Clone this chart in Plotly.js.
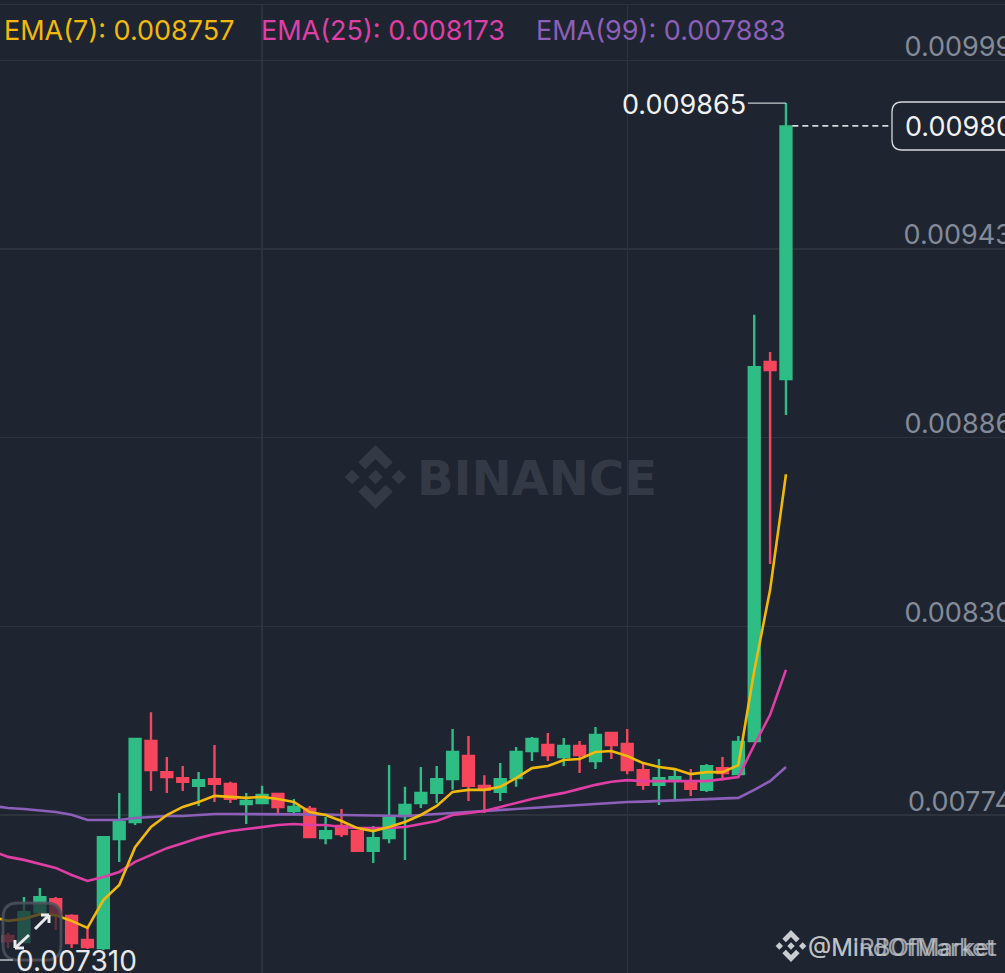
<!DOCTYPE html>
<html>
<head>
<meta charset="utf-8">
<script src="https://cdn.plot.ly/plotly-3.0.1.min.js"></script>
<style>html,body{margin:0;padding:0;width:1005px;height:973px;overflow:hidden;background:#1f2530}#chart{position:absolute;left:0;top:0}</style>
</head>
<body>
<div id="chart"></div>
<script>
// Prices in millionths of the quote unit.
const candleOpen  = [7379,7361,7450,7489,7439,7367,7343,7668,7719,7961,7868,7850,7827,7847,7833,7773,7776,7803,7752,7758,7671,7707,7692,7633,7671,7737,7776,7806,7847,7916,7827,7809,7850,7931,7949,7913,7946,7901,7985,7952,7874,7830,7847,7839,7815,7880,7862,7961,9092,9041];
const candleHigh  = [7388,7495,7522,7495,7444,7406,7677,7806,7970,8047,7913,7886,7868,7949,7839,7806,7827,7803,7788,7767,7734,7758,7692,7707,7889,7824,7883,7886,7997,7976,7859,7895,7943,7973,7985,7970,7961,8003,7988,7997,7895,7907,7880,7877,7892,7913,7976,9233,9122,9865];
const candleLow   = [7343,7361,7450,7397,7343,7340,7337,7600,7710,7812,7806,7812,7767,7779,7776,7713,7776,7746,7746,7674,7653,7674,7633,7597,7656,7606,7761,7776,7815,7782,7746,7782,7824,7901,7901,7886,7865,7877,7907,7862,7815,7770,7782,7797,7809,7844,7862,7961,8489,8934];
const candleClose = [7364,7450,7495,7441,7358,7346,7674,7719,7967,7874,7853,7839,7844,7833,7788,7782,7800,7764,7764,7674,7692,7683,7633,7671,7734,7770,7806,7847,7928,7827,7815,7847,7928,7967,7919,7946,7919,7979,7949,7874,7830,7850,7853,7818,7886,7865,7958,9077,9068,9795];
// EMA series start one candle before the first visible candle.
const ema7  = [7436,7424,7430,7444,7441,7424,7403,7486,7531,7644,7704,7740,7764,7779,7797,7794,7791,7794,7788,7779,7749,7740,7722,7701,7692,7704,7719,7740,7767,7809,7815,7815,7824,7850,7880,7886,7904,7907,7928,7931,7916,7895,7883,7877,7862,7868,7868,7889,8170,8412,8757];
const ema25 = [7633,7615,7606,7594,7582,7561,7543,7555,7570,7600,7621,7641,7656,7671,7683,7692,7698,7704,7710,7713,7710,7710,7704,7701,7701,7701,7704,7713,7722,7740,7746,7752,7764,7776,7788,7797,7806,7818,7830,7839,7844,7841,7841,7841,7841,7841,7847,7853,7949,8039,8173];
const ema99 = [7767,7761,7758,7753,7749,7741,7725,7725,7725,7731,7734,7737,7737,7740,7743,7743,7743,7743,7743,7743,7743,7741,7740,7739,7737,7737,7737,7740,7743,7746,7749,7752,7755,7758,7761,7765,7768,7770,7773,7776,7779,7780,7782,7783,7785,7786,7788,7791,7815,7841,7883];
const gridPrices = [7740,8303,8866,9430,9993];
const gridLabels = ['0.007740','0.008303','0.008866','0.009430','0.009993'];
const gridCandles = [16,39];
const legendLabels = ['EMA(7): 0.008757','EMA(25): 0.008173','EMA(99): 0.007883'];
const lastPrice = 9797, lastLabel = '0.009800';
const highPrice = 9865, highLabel = '0.009865';
const lowLabel = '0.007310';

const W = 1032, H = 973, TOP = 5;
const BG = '#1f2530', GRID = '#2d333d';
const price = v => v / 1e6;
const X0 = 8.1, STEP = 15.875, UNIT = 2.985;
const xRange = [(0 - X0) / STEP, (W - X0) / STEP];
const yRange = [price(7740 - (H - 815) * UNIT), price(7740 + (815 - TOP) * UNIT)];
const px = x => x / W, py = y => 1 - (y - TOP) / (H - TOP);

const candleX = candleOpen.map((_, i) => i);
const emaX = ema7.map((_, i) => i - 1);
const emaTrace = (vals, color) => ({type:'scatter',mode:'lines',x:emaX,y:vals.map(price),
  line:{color,width:2.6,shape:'linear'},hoverinfo:'skip',showlegend:false,cliponaxis:true});

const traces = [
  {type:'candlestick',x:candleX,open:candleOpen.map(price),high:candleHigh.map(price),low:candleLow.map(price),close:candleClose.map(price),
   increasing:{line:{color:'#2ebd85',width:2.4},fillcolor:'#2ebd85'},
   decreasing:{line:{color:'#f6465d',width:2.4},fillcolor:'#f6465d'},
   whiskerwidth:0,showlegend:false,hoverinfo:'skip'},
  emaTrace(ema99,'#8c5fb8'),
  emaTrace(ema25,'#df3fa5'),
  emaTrace(ema7,'#f0b90b')
];

function poly(pts){ return pts.map((p,i)=>(i?'L':'M')+px(p[0]).toFixed(5)+','+py(p[1]).toFixed(5)).join(' ')+' Z'; }
function logo(cx,cy,r,color){
  const t=(u,v)=>[cx+u*r,cy+v*r];
  const parts=[
    [[0,-1],[.54,-.46],[.32,-.24],[0,-.56],[-.32,-.24],[-.54,-.46]],
    [[0,1],[.54,.46],[.32,.24],[0,.56],[-.32,.24],[-.54,.46]],
    [[0,-.23],[.23,0],[0,.23],[-.23,0]],
    [[-.73,-.23],[-.5,0],[-.73,.23],[-.96,0]],
    [[.73,-.23],[.96,0],[.73,.23],[.5,0]]
  ];
  return parts.map(p=>({type:'path',xref:'paper',yref:'paper',layer:'below',path:poly(p.map(q=>t(q[0],q[1]))),fillcolor:color,line:{width:0}}));
}
function round(x0,y0,x1,y1,r){
  const P=(x,y)=>px(x).toFixed(5)+','+py(y).toFixed(5);
  return 'M'+P(x0+r,y0)+' L'+P(x1-r,y0)+' Q'+P(x1,y0)+' '+P(x1,y0+r)+' L'+P(x1,y1-r)+' Q'+P(x1,y1)+' '+P(x1-r,y1)+
    ' L'+P(x0+r,y1)+' Q'+P(x0,y1)+' '+P(x0,y1-r)+' L'+P(x0,y0+r)+' Q'+P(x0,y0)+' '+P(x0+r,y0)+' Z';
}
function seg(x0,y0,x1,y1,color,width){
  return {type:'line',xref:'paper',yref:'paper',x0:px(x0),x1:px(x1),y0:py(y0),y1:py(y1),line:{color,width}};
}

const shapes = [
  ...logo(375.5,477,32,'#343a45'),
  ...logo(791,946,16,'#c9ccd1').map(s=>({...s,layer:'above'})),
  {type:'line',xref:'x',yref:'y',x0:46.6,x1:49,y0:price(highPrice),y1:price(highPrice),line:{color:'#c9ccd1',width:1.4}},
  {type:'line',xref:'x',yref:'y',x0:49.4,x1:55.65,y0:price(lastPrice),y1:price(lastPrice),line:{color:'#d5d8dc',width:1.6,dash:'6px,4px'}},
  {type:'path',xref:'paper',yref:'paper',path:round(892,102,1060,150,10),fillcolor:BG,line:{color:'#d5d8dc',width:1.3}},
  {type:'path',xref:'paper',yref:'paper',path:round(3,903,61,960,15),fillcolor:'rgba(31,37,48,0.7)',line:{color:'rgba(78,83,94,0.85)',width:2.8}},
  seg(35,929,49,915,'#e8eaed',3),seg(41,915,49,915,'#e8eaed',3),seg(49,915,49,923,'#e8eaed',3),
  seg(29,935,15,948,'#e8eaed',3),seg(15,940,15,948,'#e8eaed',3),seg(15,948,24,948,'#e8eaed',3),
  seg(0,960,13,960,'#c9ccd1',1.4)
];

const textAt = (x,y,text,color,size,extra) => Object.assign({xref:'paper',yref:'paper',x:px(x),y:py(y),text,showarrow:false,
  xanchor:'left',yanchor:'middle',font:{family:'Inter, sans-serif',size,color},borderpad:0,borderwidth:0},extra||{});

const annotations = [
  textAt(4,31,legendLabels[0],'#f0b90b',27),
  textAt(261,31,legendLabels[1],'#df3fa5',27),
  textAt(536,31,legendLabels[2],'#8c5fb8',27),
  textAt(417,478,'BINANCE','#343a45',48,{font:{family:'DejaVu Sans, sans-serif',size:48,color:'#343a45',weight:700}}),
  textAt(746,105,highLabel,'#f0f1f3',27,{xanchor:'right'}),
  textAt(905,127,lastLabel,'#f0f1f3',27),
  textAt(16,961,lowLabel,'#e6e8eb',28),
  textAt(808,947,'@MindOfMarket','#c9ccd1',24,{opacity:0.75}),
  textAt(808,947,'@MIRBOfMarket','#c9ccd1',24,{opacity:0.75})
];

const layout = {
  width:W,height:H,margin:{l:0,r:0,t:TOP,b:0,pad:0},
  paper_bgcolor:BG,plot_bgcolor:BG,showlegend:false,boxgap:0.3,boxgroupgap:0.02,
  xaxis:{type:'linear',range:xRange,tickmode:'array',tickvals:gridCandles,showticklabels:false,ticks:'',
    showgrid:true,gridcolor:GRID,gridwidth:1.4,zeroline:false,rangeslider:{visible:false},side:'top',showline:true,linecolor:GRID,linewidth:1.4},
  yaxis:{type:'linear',range:yRange,side:'right',tickmode:'array',tickvals:gridPrices.map(price),ticktext:gridLabels,
    ticklabelposition:'inside top',ticklabelshift:5,tickfont:{family:'Inter, sans-serif',size:27,color:'#848b98'},ticks:'',
    showgrid:true,gridcolor:GRID,gridwidth:1.4,zeroline:false,showline:false},
  shapes,annotations
};
Plotly.newPlot('chart',traces,layout,{displayModeBar:false,staticPlot:true});
</script>
</body>
</html>
